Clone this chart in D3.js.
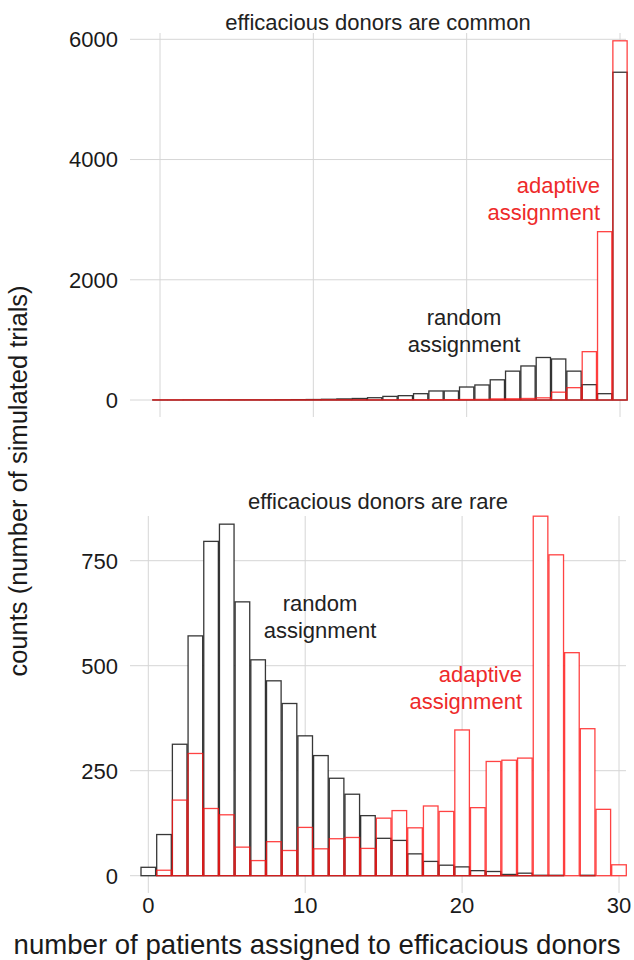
<!DOCTYPE html>
<html><head><meta charset="utf-8">
<script src="https://cdn.jsdelivr.net/npm/d3@7"></script>
<style>body{margin:0;background:#fff}svg{display:block}text{font-family:"Liberation Sans",Arial,sans-serif}</style>
</head><body>
<script>
// ---- data ----
const bins = d3.range(0, 31);
const commonRandom = [1,1,2,2,3,3,3,3,4,6,8,12,18,25,38,60,72,105,150,150,216,250,336,480,566,707,682,480,255,105,5452];
const commonAdaptive = [2,2,2,2,2,2,2,2,2,2,2,3,3,3,3,3,4,4,5,6,8,10,18,20,25,36,130,205,804,2800,5975];
const rareRandom = [20,98,313,571,796,837,652,514,464,410,333,286,232,194,143,89,84,52,34,25,21,12,10,3,6,1,1,0,1,0,0];
const rareAdaptive = [0,13,180,291,160,145,68,36,81,60,115,64,88,91,65,137,155,114,166,153,347,162,272,275,280,856,764,531,350,158,26];
const xTicks = [0,10,20,30];
const commonYTicks = [0,2000,4000,6000];
const rareYTicks = [0,250,500,750];

const W = 634, H = 960;
const svg = d3.select("body").append("svg").attr("width", W).attr("height", H);
const grid = "#d6d6d6";
const blackStroke = "rgba(20,20,20,0.85)";
const redStroke = "rgba(255,20,20,0.8)";
const redText = "#ee2a2a";
const textCol = "#1a1a1a";

function panel(cfg){
  const g = svg.append("g");
  const x = d3.scaleLinear().domain([0,30]).range(cfg.xr);
  const y = d3.scaleLinear().domain(cfg.yd).range(cfg.yr);
  const bw = (x(1)-x(0))*0.93;
  g.selectAll(".hg").data(cfg.yTicks).join("line")
    .attr("x1", cfg.left).attr("x2", cfg.right)
    .attr("y1", d=>y(d)).attr("y2", d=>y(d))
    .attr("stroke", grid).attr("stroke-width", 1);
  g.selectAll(".vg").data(xTicks).join("line")
    .attr("x1", d=>x(d)).attr("x2", d=>x(d))
    .attr("y1", cfg.top).attr("y2", cfg.bottom)
    .attr("stroke", grid).attr("stroke-width", 1);
  const both = bins.map(b => Math.max(cfg.rnd[b], cfg.adp[b]));
  g.selectAll(".fill").data(bins).join("rect")
    .attr("x", d=>x(d)-bw/2).attr("width", bw)
    .attr("y", d=>y(both[d])).attr("height", d=>y(0)-y(both[d]))
    .attr("fill", "#fff");
  g.selectAll(".rb").data(bins).join("rect")
    .attr("x", d=>x(d)-bw/2).attr("width", bw)
    .attr("y", d=>y(cfg.rnd[d])).attr("height", d=>y(0)-y(cfg.rnd[d]))
    .attr("fill", "none").attr("stroke", blackStroke).attr("stroke-width", 1.3);
  g.selectAll(".ab").data(bins).join("rect")
    .attr("x", d=>x(d)-bw/2).attr("width", bw)
    .attr("y", d=>y(cfg.adp[d])).attr("height", d=>y(0)-y(cfg.adp[d]))
    .attr("fill", "none").attr("stroke", redStroke).attr("stroke-width", 1.3);
  g.selectAll(".yl").data(cfg.yTicks).join("text")
    .attr("x", 118).attr("y", d=>y(d)).attr("dy", "0.36em")
    .attr("text-anchor", "end").attr("font-size", 22).attr("fill", textCol)
    .text(d=>d);
  g.append("text").attr("x", (cfg.left+cfg.right)/2).attr("y", cfg.titleY)
    .attr("text-anchor", "middle").attr("font-size", 22).attr("fill", "#222").text(cfg.title);
  if (cfg.xLabels){
    g.selectAll(".xl").data(xTicks).join("text")
      .attr("x", d=>x(d)).attr("y", cfg.bottom+20)
      .attr("text-anchor", "middle").attr("font-size", 22).attr("fill", textCol).text(d=>d);
  }
  cfg.notes.forEach(n => {
    const t = g.append("text").attr("text-anchor", n.anchor).attr("font-size", 22).attr("fill", n.color);
    n.lines.forEach((l,i) => t.append("tspan").attr("x", n.x).attr("y", n.y + i*26.5).text(l));
  });
}

panel({
  xr:[160,620], yd:[0,6000], yr:[400,39.3], left:130, right:626, top:33, bottom:417,
  yTicks: commonYTicks, rnd: commonRandom, adp: commonAdaptive,
  title: "efficacious donors are common", titleY: 30, xLabels:false,
  notes:[
    {x:464, y:325, anchor:"middle", color:"#222", lines:["random","assignment"]},
    {x:600, y:193, anchor:"end", color:redText, lines:["adaptive","assignment"]}
  ]
});
panel({
  xr:[148.3,619], yd:[0,750], yr:[875.7,560.7], left:130, right:626, top:516, bottom:893,
  yTicks: rareYTicks, rnd: rareRandom, adp: rareAdaptive,
  title: "efficacious donors are rare", titleY: 509, xLabels:true,
  notes:[
    {x:320, y:611, anchor:"middle", color:"#222", lines:["random","assignment"]},
    {x:522, y:682, anchor:"end", color:redText, lines:["adaptive","assignment"]}
  ]
});
svg.append("text").attr("x", 317).attr("y", 954).attr("text-anchor", "middle")
  .attr("font-size", 27.6).attr("fill", textCol).text("number of patients assigned to efficacious donors");
svg.append("text").attr("transform", "translate(27,481) rotate(-90)").attr("text-anchor", "middle")
  .attr("font-size", 25.5).attr("fill", textCol).text("counts (number of simulated trials)");
</script>
</body></html>
